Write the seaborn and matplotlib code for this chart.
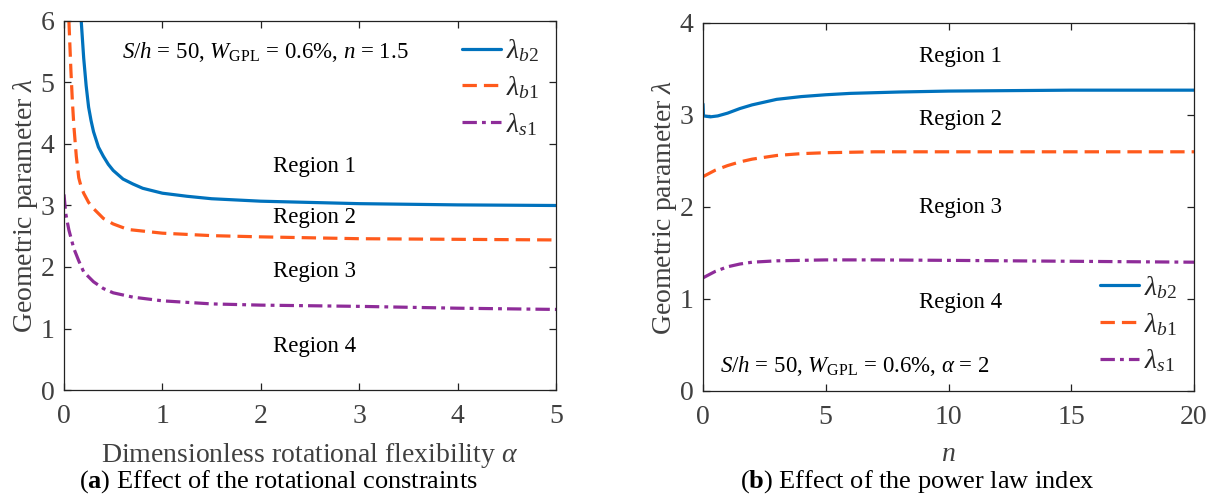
import numpy as np
import pandas as pd
import seaborn as sns
import matplotlib
matplotlib.use("Agg")
import matplotlib.pyplot as plt

# ---------------- data ----------------
alpha_b2 = [0.175, 0.2, 0.225, 0.25, 0.275, 0.3, 0.35, 0.4, 0.45, 0.5, 0.6, 0.7, 0.8, 1.0, 1.25, 1.5, 2.0, 2.5, 3.0, 4.0, 5.0]
lam_b2_a = [6.0, 5.4, 4.95, 4.6, 4.38, 4.2, 3.95, 3.8, 3.67, 3.57, 3.43, 3.35, 3.28, 3.2, 3.15, 3.11, 3.07, 3.05, 3.03, 3.01, 3.0]

alpha_b1 = [0.05, 0.06, 0.07, 0.085, 0.1, 0.125, 0.15, 0.175, 0.2, 0.25, 0.3, 0.4, 0.5, 0.65, 1.0, 1.5, 2.0, 3.0, 4.0, 5.0]
lam_b1_a = [6.0, 5.6, 5.2, 4.7, 4.3, 3.8, 3.45, 3.3, 3.2, 3.05, 2.95, 2.79, 2.7, 2.61, 2.55, 2.51, 2.49, 2.46, 2.45, 2.44]

alpha_s1 = [0.0, 0.01, 0.02, 0.035, 0.05, 0.075, 0.1, 0.15, 0.2, 0.3, 0.4, 0.5, 0.7, 1.0, 1.5, 2.0, 3.0, 4.0, 5.0]
lam_s1_a = [3.18, 3.0, 2.85, 2.72, 2.6, 2.45, 2.3, 2.1, 1.92, 1.76, 1.65, 1.58, 1.51, 1.45, 1.4, 1.38, 1.36, 1.33, 1.31]

n_b2 = [0.0, 0.02, 0.3, 0.6, 1.0, 1.5, 2.0, 2.5, 3.0, 4.0, 5.0, 6.0, 8.0, 10.0, 15.0, 20.0]
lam_b2_n = [3.12, 2.99, 2.98, 2.99, 3.02, 3.07, 3.11, 3.14, 3.17, 3.2, 3.22, 3.235, 3.25, 3.26, 3.27, 3.27]

n_b1 = [0.0, 0.5, 1.0, 1.5, 2.0, 3.0, 4.0, 5.0, 7.0, 10.0, 20.0]
lam_b1_n = [2.33, 2.4, 2.45, 2.49, 2.52, 2.56, 2.58, 2.59, 2.6, 2.6, 2.6]

n_s1 = [0.0, 0.5, 1.0, 1.5, 2.0, 3.0, 5.0, 7.0, 10.0, 15.0, 20.0]
lam_s1_n = [1.23, 1.3, 1.35, 1.38, 1.4, 1.415, 1.425, 1.425, 1.42, 1.41, 1.40]

series_labels = [r"$\lambda_{b2}$", r"$\lambda_{b1}$", r"$\lambda_{s1}$"]
region_labels = ["Region 1", "Region 2", "Region 3", "Region 4"]
left_xticks = [0, 1, 2, 3, 4, 5]
left_yticks = [0, 1, 2, 3, 4, 5, 6]
right_xticks = [0, 5, 10, 15, 20]
right_yticks = [0, 1, 2, 3, 4]

# ---------------- style ----------------
sns.set_theme(style="ticks")
plt.rcParams["font.family"] = ["Liberation Serif", "DejaVu Serif"]
plt.rcParams["mathtext.fontset"] = "custom"
plt.rcParams["mathtext.rm"] = "Liberation Serif"
plt.rcParams["mathtext.it"] = "Liberation Serif:italic"
plt.rcParams["mathtext.bf"] = "Liberation Serif:bold"

BLUE = "#0072BD"
ORANGE = "#FF5A1C"
PURPLE = "#8E2C99"
GRAY = "#404040"
colors = [BLUE, ORANGE, PURPLE]
styles = ["-", (0, (4.5, 2.2)), (0, (4.5, 1.6, 1.2, 1.6))]
LW = 2.3

fig = plt.figure(figsize=(12.07, 4.95), dpi=100)
axL = fig.add_axes([64 / 1207, 1 - 390 / 495, 492 / 1207, 369 / 495])
axR = fig.add_axes([703 / 1207, 1 - 391 / 495, 491 / 1207, 368 / 495])


def draw(ax, xs, ys):
    for x, y, c, ls, lab in zip(xs, ys, colors, styles, series_labels):
        df = pd.DataFrame({"x": x, "y": y})
        sns.lineplot(data=df, x="x", y="y", ax=ax, color=c, lw=LW,
                     linestyle=ls, label=lab, sort=False, estimator=None)


draw(axL, [alpha_b2, alpha_b1, alpha_s1], [lam_b2_a, lam_b1_a, lam_s1_a])
draw(axR, [n_b2, n_b1, n_s1], [lam_b2_n, lam_b1_n, lam_s1_n])

for ax, xt, yt in [(axL, left_xticks, left_yticks), (axR, right_xticks, right_yticks)]:
    ax.set_xlim(xt[0], xt[-1])
    ax.set_ylim(yt[0], yt[-1])
    ax.set_xticks(xt)
    ax.set_yticks(yt)
    ax.tick_params(axis="both", direction="in", top=True, right=True, length=5, width=0.9,
                   labelsize=20, labelcolor=GRAY, color="#222222")
    ax.tick_params(axis="x", pad=10)
    ax.tick_params(axis="y", pad=7)
    for s in ax.spines.values():
        s.set_linewidth(0.9)
        s.set_color("#222222")
        s.set_visible(True)
    ax.set_ylabel(r"Geometric parameter $\lambda$", fontsize=20, color=GRAY, labelpad=0)

axL.set_xlabel(r"Dimensionless rotational flexibility $\alpha$", fontsize=20, color=GRAY, labelpad=9)
axR.set_xlabel(r"$n$", fontsize=20, color=GRAY, labelpad=9)

# region labels
for ax, xc, ys in [(axL, 2.55, [3.64, 2.80, 1.93, 0.71]), (axR, 10.5, [3.64, 2.95, 2.0, 0.96])]:
    for lab, y in zip(region_labels, ys):
        ax.text(xc, y, lab, ha="center", va="center", fontsize=16.5, color="black")

axL.text(0.59, 5.49, r"$S/h$ = 50, $W_{\rm GPL}$ = 0.6%, $n$ = 1.5",
         ha="left", va="center", fontsize=16.5, color="black")
axR.text(0.68, 0.27, r"$S/h$ = 50, $W_{\rm GPL}$ = 0.6%, $\alpha$ = 2",
         ha="left", va="center", fontsize=16.5, color="black")

legL = axL.legend(loc="upper right", bbox_to_anchor=(1.0, 1.0), frameon=False,
                  fontsize=20, handlelength=1.4, handletextpad=0.2, labelspacing=0.35,
                  borderaxespad=0.2)
legR = axR.legend(loc="lower right", bbox_to_anchor=(1.0, 0.0), frameon=False,
                  fontsize=20, handlelength=1.4, handletextpad=0.2, labelspacing=0.35,
                  borderaxespad=0.2)

fig.text(278 / 1207, 1 - 482 / 495, r"($\mathbf{a}$) Effect of the rotational constraints",
         ha="center", va="center", fontsize=19, color="black")
fig.text(917 / 1207, 1 - 482 / 495, r"($\mathbf{b}$) Effect of the power law index",
         ha="center", va="center", fontsize=19, color="black")

fig.savefig("out.png", dpi=100)
